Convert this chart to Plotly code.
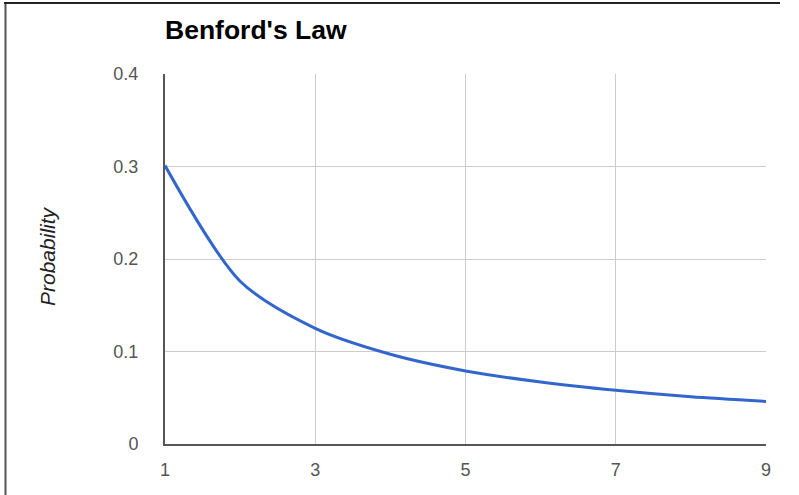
import plotly.graph_objects as go

digits = [1, 2, 3, 4, 5, 6, 7, 8, 9]
probability = [0.301, 0.176, 0.125, 0.097, 0.079, 0.067, 0.058, 0.051, 0.046]
x_ticks = [1, 3, 5, 7, 9]
y_ticks = [0, 0.1, 0.2, 0.3, 0.4]
y_tick_text = ["0", "0.1", "0.2", "0.3", "0.4"]

W, H = 799, 495
L, R, T, B = 165, 766, 74, 444
FONT = "Arial, Liberation Sans, sans-serif"

def px(x):
    return (x - L) / (R - L)

def py(y):
    return (B - y) / (B - T)

fig = go.Figure()
fig.add_trace(go.Scatter(
    x=digits, y=probability, mode="lines",
    line=dict(color="#3366cc", width=3, shape="spline", smoothing=0.8),
    hoverinfo="x+y", showlegend=False,
))

fig.update_layout(
    width=W, height=H,
    margin=dict(l=L, r=W - R, t=T, b=H - B, pad=0),
    paper_bgcolor="white", plot_bgcolor="white",
    font=dict(family=FONT, size=18, color="#444"),
    title=dict(text="<b>Benford's Law</b>", x=0, xref="paper", xanchor="left",
               y=1 - 30 / H, yref="container", yanchor="middle",
               font=dict(family=FONT, size=26.5, color="#000")),
    xaxis=dict(range=[1, 9], tickvals=x_ticks, ticktext=[str(v) for v in x_ticks],
               showgrid=True, gridcolor="#cccccc", gridwidth=1.4,
               showline=True, linecolor="#555", linewidth=2,
               zeroline=False, ticks="", ticklabelstandoff=8,
               tickfont=dict(family=FONT, size=18, color="#555")),
    yaxis=dict(range=[0, 0.4], tickvals=y_ticks, ticktext=y_tick_text,
               showgrid=True, gridcolor="#cccccc", gridwidth=1.4,
               showline=True, linecolor="#555", linewidth=2,
               zeroline=False, ticks="", ticklabelstandoff=21,
               tickfont=dict(family=FONT, size=18, color="#555")),
    annotations=[dict(text="<i>Probability</i>", textangle=-90,
                      x=px(47), xref="paper", xanchor="center",
                      y=py(256), yref="paper", yanchor="middle", showarrow=False,
                      font=dict(family=FONT, size=21, color="#222"))],
    shapes=[
        dict(type="line", xref="paper", yref="paper",
             x0=px(5.5), x1=px(5.5), y0=py(3), y1=py(H + 2),
             line=dict(color="#555", width=2)),
        dict(type="line", xref="paper", yref="paper",
             x0=px(4), x1=px(780), y0=py(3), y1=py(3),
             line=dict(color="#222", width=2)),
    ],
)

fig.write_html("out.html", config={"displayModeBar": False})

with open("out.html", "r", encoding="utf-8") as f:
    html = f.read()
html = html.replace("<body>", '<body style="margin:0;padding:0;">', 1)
with open("out.html", "w", encoding="utf-8") as f:
    f.write(html)
